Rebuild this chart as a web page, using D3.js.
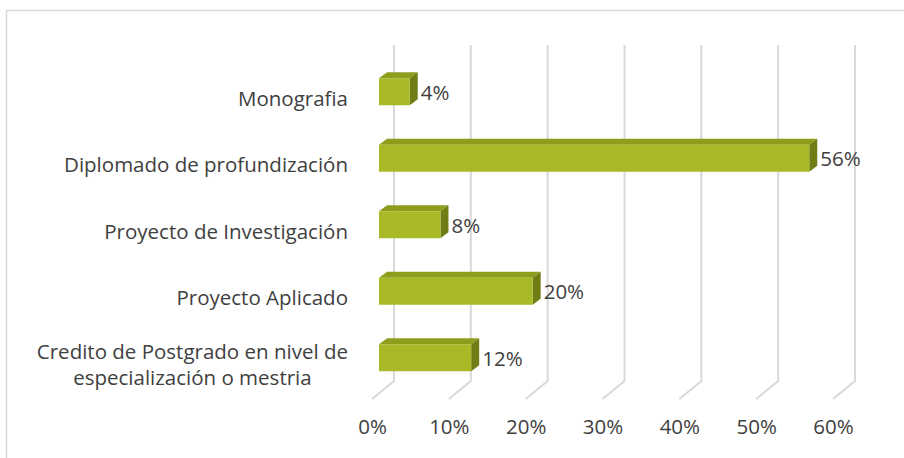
<!DOCTYPE html>
<html><head><meta charset="utf-8">
<script src="https://cdn.jsdelivr.net/npm/d3@7"></script>
<style>body{margin:0;background:#fff}svg{display:block}text{font-family:"Open Sans",sans-serif;fill:#404040}</style>
</head><body><svg id="c" width="904" height="458"></svg>
<script>
const categories = ["Monografia","Diplomado de profundización","Proyecto de Investigación","Proyecto Aplicado","Credito de Postgrado en nivel de\nespecialización o mestria"];
const values = [4,56,8,20,12];
const ticks = [0,10,20,30,40,50,60];
const tickLabels = ["0%","10%","20%","30%","40%","50%","60%"];

const FS = "20.5px";
const svg = d3.select("#c");
svg.append("rect").attr("x",6.5).attr("y",10.5).attr("width",910).attr("height",460)
  .attr("fill","none").attr("stroke","#d9d9d9").attr("stroke-width",1.5);

const depthX = 22, depthY = 18;
const xBack = d3.scaleLinear().domain([0,60]).range([394,855]);
const xFront = d3.scaleLinear().domain([0,60]).range([372,833]);
const xBar = d3.scaleLinear().domain([0,60]).range([379,840]);
const y = d3.scaleBand().domain(categories).range([58.5,391]).padding(0);
const wallTop = 45, wallBottom = 381;

const g = svg.append("g");
ticks.forEach(t=>{
  const xb = xBack(t);
  g.append("path").attr("d",`M${xb},${wallTop}L${xb},${wallBottom}L${xb-depthX},${wallBottom+depthY}`)
   .attr("fill","none").attr("stroke","#d9d9d9").attr("stroke-width",2);
});

const xAxis = d3.axisBottom(xFront).tickValues(ticks).tickFormat((d,i)=>tickLabels[i]).tickSize(0).tickPadding(0);
const ax = svg.append("g").attr("transform","translate(0,427)").call(xAxis);
ax.select(".domain").remove();
ax.selectAll("text").attr("dy","0.35em").style("font-size",FS).style("font-family","'Open Sans',sans-serif").attr("fill","#404040");

const bh = 27, bd = 8, bdy = 6;
const bars = svg.append("g");
categories.forEach((c,i)=>{
  const v = values[i];
  const x0 = xBar(0), x1 = xBar(v);
  const yc = y(c) + y.bandwidth()/2;
  const yt = yc - bh/2, yb = yc + bh/2;
  bars.append("path").attr("d",`M${x0},${yt}L${x0+bd},${yt-bdy}L${x1+bd},${yt-bdy}L${x1},${yt}Z`).attr("fill","#8e9e1c");
  bars.append("path").attr("d",`M${x1},${yt}L${x1+bd},${yt-bdy}L${x1+bd},${yb-bdy}L${x1},${yb}Z`).attr("fill","#6f7d14");
  bars.append("rect").attr("x",x0).attr("y",yt).attr("width",x1-x0).attr("height",bh).attr("fill","#a9b826");
  svg.append("text").attr("x",x1+bd+3).attr("y",yc+1).attr("dy","0.35em")
    .style("font-size",FS).text(v+"%");
  const lines = c.split("\n");
  const t = svg.append("text").attr("text-anchor","end").style("font-size",FS).attr("class","cat");
  lines.forEach((ln,k)=>{
    t.append("tspan").attr("x",348).attr("y", yc + 7 + (k-(lines.length-1)/2)*26).attr("dy","0.35em").text(ln);
  });
  if(lines.length>1){
    const w = t.node().getBBox().width;
    t.attr("text-anchor","middle"); t.selectAll("tspan").attr("x",348-w/2);
  }
});
</script></body></html>
